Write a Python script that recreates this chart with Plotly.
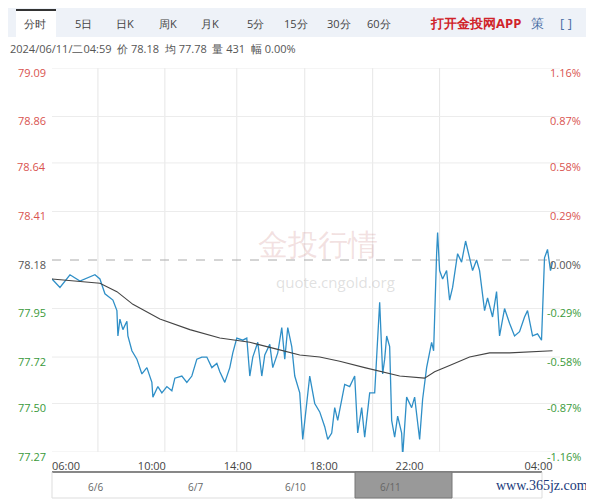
import plotly.graph_objects as go

px_x = [52,60,70,80,95,100,105,113,117,118,120,123,127,128,132,137,142,147,152,153,158,162,167,172,175,182,187,192,197,202,207,212,217,220,225,230,233,237,243,247,250,253,258,262,265,270,273,278,282,285,288,292,295,300,303,308,310,315,320,325,328,332,335,338,343,
        345,350,355,358,362,365,370,375,377,380,383,385,387,390,392,395,398,402,403,407,412,415,418,420,423,427,432,434,437,438,440,443,447,450,453,458,462,466,470,473,477,480,485,488,493,497,500,505,510,515,520,525,528,533,538,542,545,548,551,553]
price = [78.09,78.05,78.11,78.08,78.11,78.09,78.02,77.99,77.94,77.82,77.90,77.85,77.89,77.82,77.75,77.71,77.64,77.67,77.60,77.53,77.58,77.55,77.58,77.56,77.62,77.63,77.60,77.63,77.71,77.72,77.72,77.67,77.69,77.65,77.60,77.67,77.74,77.81,77.80,77.81,77.63,77.72,77.79,77.63,77.73,77.78,77.67,77.74,77.86,77.71,77.86,77.77,77.63,77.55,77.33,77.55,77.63,77.50,77.46,77.39,77.33,77.36,77.48,77.42,77.55,
         77.59,77.58,77.63,77.36,77.48,77.34,77.55,77.55,77.74,77.98,77.64,77.71,77.82,77.77,77.42,77.34,77.44,77.36,77.25,77.53,77.48,77.53,77.41,77.33,77.52,77.67,77.79,77.75,78.21,78.31,78.13,78.09,78.13,77.99,78.05,78.21,78.17,78.27,78.19,78.13,78.18,78.13,77.94,78.00,77.91,78.03,77.82,77.95,77.88,77.82,77.84,77.91,77.94,77.82,77.83,77.80,78.19,78.23,78.13,78.17]
avg_x = [52,100,117,133,160,190,220,250,275,300,320,340,365,383,400,425,435,450,470,490,510,553]
avg = [78.09,78.07,78.03,77.97,77.90,77.85,77.81,77.79,77.76,77.73,77.72,77.70,77.67,77.65,77.63,77.62,77.65,77.68,77.72,77.74,77.74,77.75]
t = [(v-66)/21.5 for v in px_x]
ta = [(v-66)/21.5 for v in avg_x]

ylabels_l = ["79.09","78.86","78.64","78.41","78.18","77.95","77.72","77.50","77.27"]
ylabels_r = ["1.16%","0.87%","0.58%","0.29%","0.00%","-0.29%","-0.58%","-0.87%","-1.16%"]
yvals = [79.09,78.86,78.64,78.41,78.18,77.95,77.72,77.50,77.27]
xticks = ["06:00","10:00","14:00","18:00","22:00","04:00"]
xtickv = [0,4,8,12,16,22]
grid_t = [(v-66)/21.5 for v in [98,165,237,305,373,440]]
tabs = ["分时","5日","日K","周K","月K","5分","15分","30分","60分"]
tab_x = [35,83,125,168,210,255,296,339,379]
nav_labels = ["6/6","6/7","6/10","6/11"]
nav_lx = [95,195,295,390]

OX, OY = 8, 8
def PX(x): return (x - OX) / 594
def PY(y): return 1 - (y - OY) / 500

x0, x1 = -0.65, 23.0
fig = go.Figure()
fig.add_trace(go.Scatter(x=t, y=price, mode="lines", line=dict(color="#2f8fc7", width=1.3)))
fig.add_trace(go.Scatter(x=ta, y=avg, mode="lines", line=dict(color="#444", width=1.1)))
shapes = []
for g in grid_t:
    shapes.append(dict(type="line", xref="x", yref="y", x0=g, x1=g, y0=77.27, y1=79.09, line=dict(color="#e6e6e6", width=1), layer="below"))
for v in yvals:
    shapes.append(dict(type="line", xref="x", yref="y", x0=x0, x1=x1, y0=v, y1=v, layer="below",
                       line=dict(color="#aaa" if v == 78.18 else "#ececec", width=1, dash="dash" if v == 78.18 else "solid")))
shapes.append(dict(type="rect", xref="paper", yref="paper", x0=PX(8), x1=PX(594), y0=PY(37), y1=PY(8), fillcolor="#eef2f8", line=dict(width=0), layer="below"))
shapes.append(dict(type="rect", xref="paper", yref="paper", x0=PX(16), x1=PX(56), y0=PY(37), y1=PY(9), fillcolor="white", line=dict(width=0), layer="below"))
shapes.append(dict(type="line", xref="paper", yref="paper", x0=PX(16), x1=PX(56), y0=PY(10), y1=PY(10), line=dict(color="#333", width=2)))
shapes.append(dict(type="line", xref="paper", yref="paper", x0=PX(52), x1=PX(542), y0=PY(472), y1=PY(472), line=dict(color="#333", width=2)))
shapes.append(dict(type="rect", xref="paper", yref="paper", x0=PX(52), x1=PX(542), y0=PY(498), y1=PY(472), line=dict(color="#ddd", width=1)))
shapes.append(dict(type="rect", xref="paper", yref="paper", x0=PX(355), x1=PX(452), y0=PY(498), y1=PY(472), fillcolor="#999", line=dict(color="#777", width=1)))

def A(x, y, text, size, color, xa="center", yref="paper", ys=0, family=None):
    f = dict(size=size, color=color)
    if family: f["family"] = family
    return dict(x=x, y=y, xref="paper", yref=yref, text=text, showarrow=False, xanchor=xa, yanchor="middle", yshift=ys, font=f)

ann = []
for lab, v in zip(ylabels_l, yvals):
    c = "#d9534f" if v > 78.18 else ("#555" if v == 78.18 else "#3a9a3a")
    ann.append(A(PX(48), v, lab, 11, c, xa="right", yref="y", ys=-4))
for lab, v in zip(ylabels_r, yvals):
    c = "#d9534f" if v > 78.18 else ("#555" if v == 78.18 else "#3a9a3a")
    ann.append(A(PX(583), v, lab, 11, c, xa="right", yref="y", ys=-4))
for lab, x in zip(tabs, tab_x):
    ann.append(A(PX(x), PY(23), lab, 11, "#444"))
ann.append(A(PX(475), PY(23), "<b>打开金投网APP</b>", 13, "#d0232a"))
ann.append(A(PX(537), PY(23), "策", 13, "#4a6fa5"))
ann.append(A(PX(566), PY(23), "[ ]", 13, "#4a6fa5"))
ann.append(A(PX(8), PY(49), "2024/06/11/二04:59  价 78.18  均 77.78  量 431  幅 0.00%", 11, "#555", xa="left"))
for lab, x in zip(nav_labels, nav_lx):
    ann.append(A(PX(x), PY(487), lab, 10, "#666"))
ann.append(A(PX(590), PY(485), "www.365jz.com", 14, "#1a3a7a", xa="right", family="Liberation Serif"))
ann.append(A(PX(318), PY(243), "金投行情", 30, "rgba(200,120,120,0.22)"))
ann.append(A(PX(335), PY(282), "quote.cngold.org", 15, "rgba(150,150,150,0.3)"))

fig.update_layout(
    width=594, height=500, margin=dict(l=0, r=0, t=0, b=0),
    paper_bgcolor="white", plot_bgcolor="white", showlegend=False,
    xaxis=dict(domain=[PX(52), PX(560)], range=[x0, x1], tickvals=xtickv, ticktext=xticks,
               showgrid=False, zeroline=False, showline=False, ticks="", ticklabelstandoff=6,
               tickfont=dict(size=11, color="#444")),
    yaxis=dict(domain=[PY(452), PY(68)], range=[77.27, 79.09], showticklabels=False, showgrid=False, zeroline=False),
    shapes=shapes, annotations=ann,
)
fig.write_html("out.html")
